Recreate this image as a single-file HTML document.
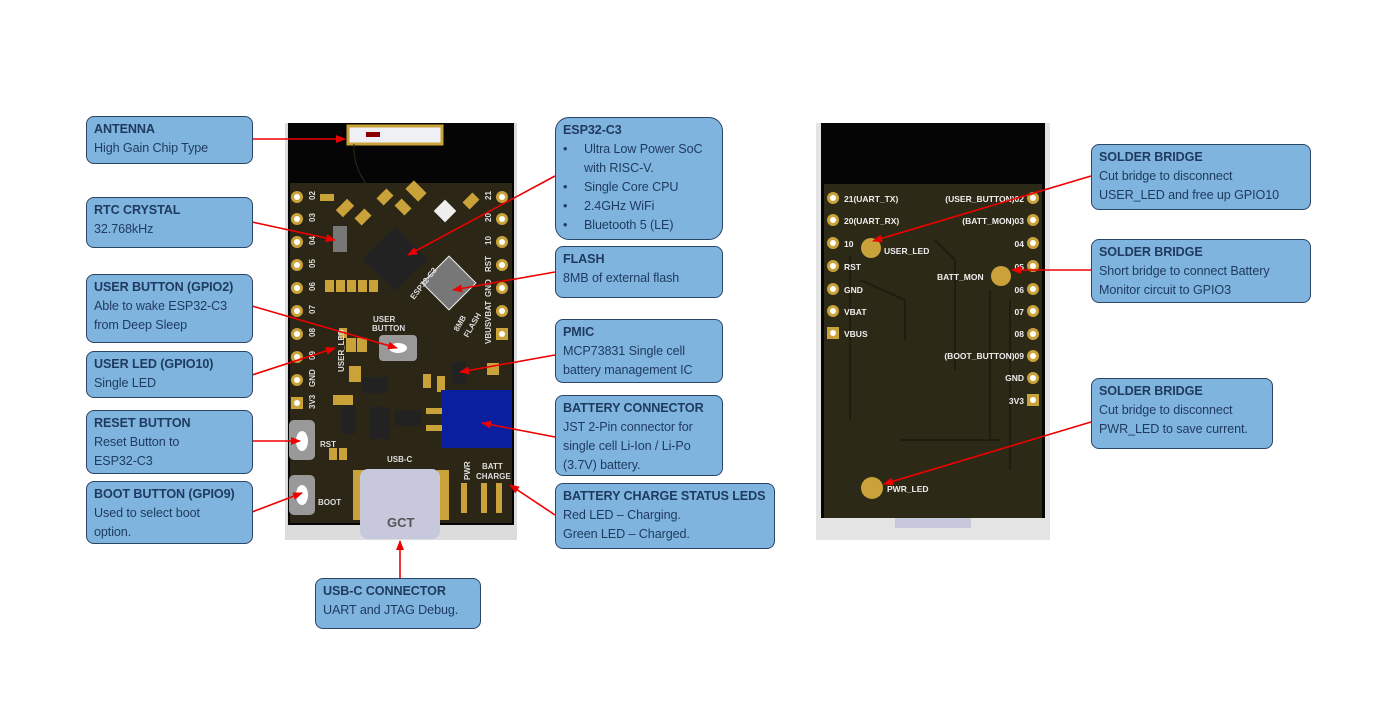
<!DOCTYPE html>
<html><head><meta charset="utf-8"><style>
body{margin:0;width:1373px;height:718px;background:#fff;position:relative;overflow:hidden;font-family:"Liberation Sans",sans-serif}
.b{position:absolute;box-sizing:border-box;background:#7fb4de;border:1.5px solid #2b4566;border-radius:8px;color:#1f3a5f;font-size:12.6px;line-height:19px;padding:3px 0 0 7px;white-space:nowrap;letter-spacing:-0.1px}
.b b{display:block}
.b ul{margin:0;padding:0;list-style:none}
.b li{position:relative;padding-left:21px}
.b li:before{content:"•";position:absolute;left:0}
svg{position:absolute;left:0;top:0}
</style></head><body>
<svg width="1373" height="718" font-family="Liberation Sans, sans-serif">
<defs><marker id="a" markerWidth="10" markerHeight="8" refX="9" refY="4" orient="auto" markerUnits="userSpaceOnUse"><path d="M0,0 L10,4 L0,8z" fill="#e00"/></marker></defs>
<!-- left board -->
<rect x="285" y="123" width="232" height="417" fill="#dcdcdc"/>
<rect x="288" y="123" width="226" height="402" fill="#050505"/>
<rect x="290" y="183" width="222" height="340" fill="#2b2616"/>
<rect x="348" y="126" width="94" height="18" fill="#eef0f5" stroke="#c9a23a" stroke-width="3"/>
<rect x="366" y="132" width="14" height="5" fill="#8a0000"/>
<path d="M354,144 Q352,170 375,195" stroke="#2a2a1a" fill="none"/>
<g fill="#c9a23a">
<rect x="320" y="194" width="14" height="7"/><rect x="340" y="200" width="10" height="16" transform="rotate(45 345 208)"/><rect x="358" y="210" width="10" height="14" transform="rotate(45 363 217)"/><rect x="380" y="190" width="10" height="14" transform="rotate(45 385 197)"/><rect x="398" y="200" width="10" height="14" transform="rotate(-45 403 207)"/><rect x="410" y="182" width="12" height="18" transform="rotate(-45 416 191)"/><rect x="466" y="194" width="10" height="14" transform="rotate(45 471 201)"/>
<rect x="325" y="280" width="9" height="12"/><rect x="336" y="280" width="9" height="12"/><rect x="347" y="280" width="9" height="12"/><rect x="358" y="280" width="9" height="12"/><rect x="369" y="280" width="9" height="12"/>
<rect x="339" y="328" width="8" height="10"/><rect x="346" y="338" width="10" height="14"/><rect x="357" y="338" width="10" height="14"/><rect x="349" y="366" width="12" height="16"/><rect x="333" y="395" width="20" height="10"/><rect x="423" y="374" width="8" height="14"/><rect x="487" y="363" width="12" height="12"/><rect x="437" y="376" width="8" height="16"/>
<rect x="329" y="448" width="8" height="12"/><rect x="339" y="448" width="8" height="12"/><rect x="481" y="483" width="6" height="30"/><rect x="461" y="483" width="6" height="30"/><rect x="496" y="483" width="6" height="30"/>
<circle cx="297" cy="197" r="6"/><circle cx="297" cy="219" r="6"/><circle cx="297" cy="242" r="6"/><circle cx="297" cy="265" r="6"/><circle cx="297" cy="288" r="6"/><circle cx="297" cy="311" r="6"/><circle cx="297" cy="334" r="6"/><circle cx="297" cy="357" r="6"/><circle cx="297" cy="380" r="6"/><rect x="291" y="397" width="12" height="12"/>
<circle cx="502" cy="197" r="6"/><circle cx="502" cy="219" r="6"/><circle cx="502" cy="242" r="6"/><circle cx="502" cy="265" r="6"/><circle cx="502" cy="288" r="6"/><circle cx="502" cy="311" r="6"/><rect x="496" y="328" width="12" height="12"/>
</g>
<g fill="#fff"><circle cx="297" cy="197" r="3"/><circle cx="297" cy="219" r="3"/><circle cx="297" cy="242" r="3"/><circle cx="297" cy="265" r="3"/><circle cx="297" cy="288" r="3"/><circle cx="297" cy="311" r="3"/><circle cx="297" cy="334" r="3"/><circle cx="297" cy="357" r="3"/><circle cx="297" cy="380" r="3"/><circle cx="297" cy="403" r="3"/>
<circle cx="502" cy="197" r="3"/><circle cx="502" cy="219" r="3"/><circle cx="502" cy="242" r="3"/><circle cx="502" cy="265" r="3"/><circle cx="502" cy="288" r="3"/><circle cx="502" cy="311" r="3"/><circle cx="502" cy="334" r="3"/></g>
<rect x="372" y="236" width="46" height="46" fill="#222" transform="rotate(45 395 259)"/>
<rect x="430" y="264" width="38" height="38" fill="#777" stroke="#eee" transform="rotate(45 449 283)"/>
<rect x="437" y="203" width="16" height="16" fill="#eee" transform="rotate(45 445 211)"/>
<rect x="333" y="226" width="14" height="26" fill="#777"/>
<g fill="#ddd" font-size="8" font-weight="bold">
<text transform="translate(315,200) rotate(-90)">02</text><text transform="translate(315,222) rotate(-90)">03</text><text transform="translate(315,245) rotate(-90)">04</text><text transform="translate(315,268) rotate(-90)">05</text><text transform="translate(315,291) rotate(-90)">06</text><text transform="translate(315,314) rotate(-90)">07</text><text transform="translate(315,337) rotate(-90)">08</text><text transform="translate(315,360) rotate(-90)">09</text><text transform="translate(315,387) rotate(-90)">GND</text><text transform="translate(315,409) rotate(-90)">3V3</text>
<text transform="translate(491,200) rotate(-90)">21</text><text transform="translate(491,222) rotate(-90)">20</text><text transform="translate(491,245) rotate(-90)">10</text><text transform="translate(491,272) rotate(-90)">RST</text><text transform="translate(491,297) rotate(-90)">GND</text><text transform="translate(491,322) rotate(-90)">VBAT</text><text transform="translate(491,344) rotate(-90)">VBUS</text>
<text transform="translate(344,372) rotate(-90)">USER_LED</text>
<text x="373" y="322">USER</text><text x="372" y="331">BUTTON</text>
<text transform="translate(414,300) rotate(-52)">ESP32-C3</text>
<text transform="translate(458,332) rotate(-60)">8MB</text><text transform="translate(468,338) rotate(-60)">FLASH</text>
<text x="320" y="447">RST</text><text x="318" y="505">BOOT</text><text x="387" y="462">USB-C</text>
<text transform="translate(470,480) rotate(-90)">PWR</text><text x="482" y="469">BATT</text><text x="476" y="479">CHARGE</text>
</g>
<rect x="379" y="335" width="38" height="26" rx="4" fill="#999"/><ellipse cx="398" cy="348" rx="9" ry="5" fill="#fff"/>
<rect x="289" y="420" width="26" height="40" rx="5" fill="#999"/><ellipse cx="302" cy="441" rx="6" ry="10" fill="#fff"/>
<rect x="289" y="475" width="26" height="40" rx="5" fill="#999"/><ellipse cx="302" cy="495" rx="6" ry="10" fill="#fff"/>
<rect x="441" y="390" width="70" height="58" fill="#0a1f9e"/>
<rect x="426" y="408" width="16" height="6" fill="#c9a23a"/><rect x="426" y="425" width="16" height="6" fill="#c9a23a"/>
<rect x="362" y="377" width="26" height="16" fill="#222"/><rect x="342" y="406" width="14" height="28" fill="#222"/><rect x="370" y="407" width="20" height="32" fill="#222"/><rect x="395" y="410" width="26" height="16" fill="#222"/><rect x="452" y="362" width="14" height="22" fill="#222"/>
<rect x="353" y="470" width="12" height="50" fill="#c9a23a"/><rect x="437" y="470" width="12" height="50" fill="#c9a23a"/>
<rect x="360" y="469" width="80" height="70" rx="8" fill="#c8c8dc"/>
<text x="387" y="527" font-size="13" font-weight="bold" fill="#555">GCT</text>
<!-- right board -->
<rect x="816" y="123" width="234" height="417" fill="#e4e4e4"/>
<rect x="821" y="123" width="224" height="395" fill="#050505"/>
<rect x="824" y="184" width="218" height="334" fill="#2d2917"/>
<rect x="895" y="518" width="76" height="10" fill="#c8c8dc"/>
<g stroke="#1f1c10" stroke-width="2" fill="none"><path d="M850,255 L850,420 M860,280 L905,300 L905,340 M935,240 L955,260 L955,370 M990,290 L990,440 M1010,300 L1010,470 M900,440 L1000,440"/></g>
<g fill="#c9a23a">
<circle cx="833" cy="198" r="6"/><circle cx="833" cy="220" r="6"/><circle cx="833" cy="243" r="6"/><circle cx="833" cy="266" r="6"/><circle cx="833" cy="289" r="6"/><circle cx="833" cy="311" r="6"/><rect x="827" y="327" width="12" height="12"/>
<circle cx="1033" cy="198" r="6"/><circle cx="1033" cy="220" r="6"/><circle cx="1033" cy="243" r="6"/><circle cx="1033" cy="266" r="6"/><circle cx="1033" cy="289" r="6"/><circle cx="1033" cy="311" r="6"/><circle cx="1033" cy="334" r="6"/><circle cx="1033" cy="356" r="6"/><circle cx="1033" cy="378" r="6"/><rect x="1027" y="394" width="12" height="12"/>
<circle cx="871" cy="248" r="10"/><circle cx="1001" cy="276" r="10"/><circle cx="872" cy="488" r="11"/>
</g>
<g fill="#fff"><circle cx="833" cy="198" r="3"/><circle cx="833" cy="220" r="3"/><circle cx="833" cy="243" r="3"/><circle cx="833" cy="266" r="3"/><circle cx="833" cy="289" r="3"/><circle cx="833" cy="311" r="3"/><circle cx="833" cy="333" r="3"/>
<circle cx="1033" cy="198" r="3"/><circle cx="1033" cy="220" r="3"/><circle cx="1033" cy="243" r="3"/><circle cx="1033" cy="266" r="3"/><circle cx="1033" cy="289" r="3"/><circle cx="1033" cy="311" r="3"/><circle cx="1033" cy="334" r="3"/><circle cx="1033" cy="356" r="3"/><circle cx="1033" cy="378" r="3"/><circle cx="1033" cy="400" r="3"/></g>
<g fill="#eee" font-size="8.5" font-weight="bold">
<text x="844" y="202">21(UART_TX)</text><text x="844" y="224">20(UART_RX)</text><text x="844" y="247">10</text><text x="844" y="270">RST</text><text x="844" y="293">GND</text><text x="844" y="315">VBAT</text><text x="844" y="337">VBUS</text>
<g text-anchor="end"><text x="1024" y="202">(USER_BUTTON)02</text><text x="1024" y="224">(BATT_MON)03</text><text x="1024" y="247">04</text><text x="1024" y="270">05</text><text x="1024" y="293">06</text><text x="1024" y="315">07</text><text x="1024" y="337">08</text><text x="1024" y="359">(BOOT_BUTTON)09</text><text x="1024" y="381">GND</text><text x="1024" y="404">3V3</text></g>
<text x="884" y="254">USER_LED</text><text x="937" y="280">BATT_MON</text><text x="887" y="492">PWR_LED</text>
</g>
<!-- arrows -->
<g stroke="#e00" stroke-width="1.6" marker-end="url(#a)">
<line x1="252" y1="139" x2="345" y2="139"/><line x1="252" y1="222" x2="335" y2="240"/><line x1="252" y1="306" x2="397" y2="348"/><line x1="252" y1="375" x2="335" y2="348"/><line x1="252" y1="441" x2="300" y2="441"/><line x1="252" y1="512" x2="302" y2="493"/>
<line x1="555" y1="176" x2="408" y2="255"/><line x1="555" y1="272" x2="453" y2="290"/><line x1="555" y1="355" x2="460" y2="372"/><line x1="555" y1="437" x2="482" y2="423"/><line x1="555" y1="515" x2="510" y2="485"/><line x1="400" y1="579" x2="400" y2="541"/>
<line x1="1091" y1="176" x2="873" y2="241"/><line x1="1091" y1="270" x2="1012" y2="270"/><line x1="1091" y1="422" x2="884" y2="484"/>
</g>
</svg>
<div class="b" style="left:86px;top:116px;width:167px;height:48px"><b>ANTENNA</b>High Gain Chip Type</div>
<div class="b" style="left:86px;top:197px;width:167px;height:51px"><b>RTC CRYSTAL</b>32.768kHz</div>
<div class="b" style="left:86px;top:274px;width:167px;height:69px"><b>USER BUTTON (GPIO2)</b>Able to wake ESP32-C3<br>from Deep Sleep</div>
<div class="b" style="left:86px;top:351px;width:167px;height:47px"><b>USER LED (GPIO10)</b>Single LED</div>
<div class="b" style="left:86px;top:410px;width:167px;height:64px"><b>RESET BUTTON</b>Reset Button to<br>ESP32-C3</div>
<div class="b" style="left:86px;top:481px;width:167px;height:63px"><b>BOOT BUTTON (GPIO9)</b>Used to select boot<br>option.</div>
<div class="b" style="left:555px;top:117px;width:168px;height:123px;border-radius:14px"><b>ESP32-C3</b><ul><li>Ultra Low Power SoC<br>with RISC-V.</li><li>Single Core CPU</li><li>2.4GHz WiFi</li><li>Bluetooth 5 (LE)</li></ul></div>
<div class="b" style="left:555px;top:246px;width:168px;height:52px"><b>FLASH</b>8MB of external flash</div>
<div class="b" style="left:555px;top:319px;width:168px;height:64px"><b>PMIC</b>MCP73831 Single cell<br>battery management IC</div>
<div class="b" style="left:555px;top:395px;width:168px;height:81px"><b>BATTERY CONNECTOR</b>JST 2-Pin connector for<br>single cell Li-Ion / Li-Po<br>(3.7V) battery.</div>
<div class="b" style="left:555px;top:483px;width:220px;height:66px"><b>BATTERY CHARGE STATUS LEDS</b>Red LED – Charging.<br>Green LED – Charged.</div>
<div class="b" style="left:315px;top:578px;width:166px;height:51px"><b>USB-C CONNECTOR</b>UART and JTAG Debug.</div>
<div class="b" style="left:1091px;top:144px;width:220px;height:66px"><b>SOLDER BRIDGE</b>Cut bridge to disconnect<br>USER_LED and free up GPIO10</div>
<div class="b" style="left:1091px;top:239px;width:220px;height:64px"><b>SOLDER BRIDGE</b>Short bridge to connect Battery<br>Monitor circuit to GPIO3</div>
<div class="b" style="left:1091px;top:378px;width:182px;height:71px"><b>SOLDER BRIDGE</b>Cut bridge to disconnect<br>PWR_LED to save current.</div>
</body></html>
